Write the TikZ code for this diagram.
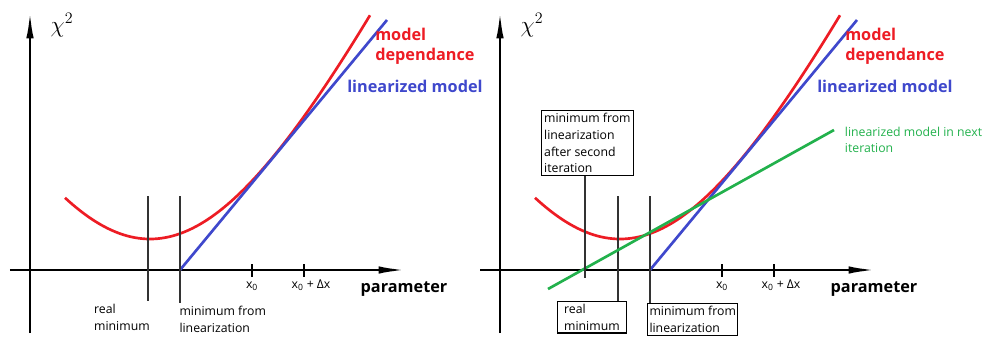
\documentclass[tikz,border=0pt]{standalone}
\usepackage{fontspec}
\setmainfont{Open Sans}
\usetikzlibrary{arrows.meta}
\definecolor{paintred}{RGB}{237,28,36}
\definecolor{paintblue}{RGB}{63,72,204}
\definecolor{paintgreen}{RGB}{34,177,76}
\tikzset{
  axisline/.style={line width=2.2pt, -{Latex[length=22pt,width=5.5pt]}},
  modelline/.style={paintred, line width=2pt},
  linline/.style={paintblue, line width=2pt},
  nextline/.style={paintgreen, line width=2pt},
  tickline/.style={line width=2.2pt},
  guide/.style={black!80, line width=0.8pt},
  smalltext/.style={font=\fontsize{9.2}{12.5}\selectfont, align=left, inner ysep=2pt, line width=0.8pt},
  bigtext/.style={font=\fontsize{12.2}{15}\selectfont\bfseries, align=left, inner sep=0pt}
}
\begin{document}
\begin{tikzpicture}[x=0.75pt, y=0.75pt]
  \useasboundingbox (-30,-67) rectangle (956,270);
  \foreach \s/\f in {0/none, 470/black} {
    \begin{scope}[shift={(\s,0)}]
      \coordinate (ybot\s) at (0,-63);
      \coordinate (ytop\s) at (0,261);
      \coordinate (xleft\s) at (-20,0);
      \coordinate (xright\s) at (378,0);
      \draw[axisline] (ybot\s) -- (ytop\s);
      \draw[axisline] (xleft\s) -- (xright\s);
      \node[font=\fontsize{17}{20}\selectfont] (chi\s) at (32,245) {$\chi^2$};
      \draw[modelline] plot[domain=35:340, samples=80, smooth] (\x, {31+369*(sqrt(1+((\x-120)/175)^2)-1)});
      \coordinate (linfoot\s) at (150,0);
      \coordinate (lintop\s) at (357,250);
      \draw[linline] (linfoot\s) -- (lintop\s);
      \foreach \t in {222,274} \draw[tickline] (\t,6) -- (\t,-7);
      \node[smalltext, anchor=base] (xo\s) at (222,-18) {x\textsubscript{0}};
      \node[smalltext, anchor=base] (xd\s) at (281,-18) {x\textsubscript{0} + Δx};
      \node[bigtext, anchor=base] (par\s) at (374,-22) {parameter};
      \node[bigtext, paintred, anchor=north west] (dep\s) at (345,242) {model\\dependance};
      \node[bigtext, paintblue, anchor=base west] (lin\s) at (317,178) {linearized model};
      \node[smalltext, draw=\f, anchor=north west, inner xsep=5pt] (real\s) at (57,-31) {real\\minimum};
      \node[smalltext, draw=\f, anchor=north west, inner xsep=1.5pt] (minlin\s) at (147,-33) {minimum from\\linearization};
      \coordinate (ga\s) at (118,74);
      \coordinate (gb\s) at (150,74);
      \draw[guide] (ga\s) -- (ga\s |- real\s.north);
      \draw[guide] (gb\s) -- (gb\s |- minlin\s.north);
    \end{scope}
  }
  \begin{scope}[shift={(470,0)}]
    \coordinate (gfoot) at (48,-19);
    \coordinate (gtop) at (334,140);
    \draw[nextline] (gfoot) -- (gtop);
    \node[smalltext, paintgreen, anchor=west] (nexttxt) at (340,130) {linearized model in next\\iteration};
    \node[smalltext, draw, anchor=south west, inner xsep=2pt] (second) at (41,94) {minimum from\\linearization\\after second\\iteration};
    \coordinate (gc) at (85,-8);
    \draw[guide] (second.south -| gc) -- (gc);
  \end{scope}
\end{tikzpicture}
\end{document}
